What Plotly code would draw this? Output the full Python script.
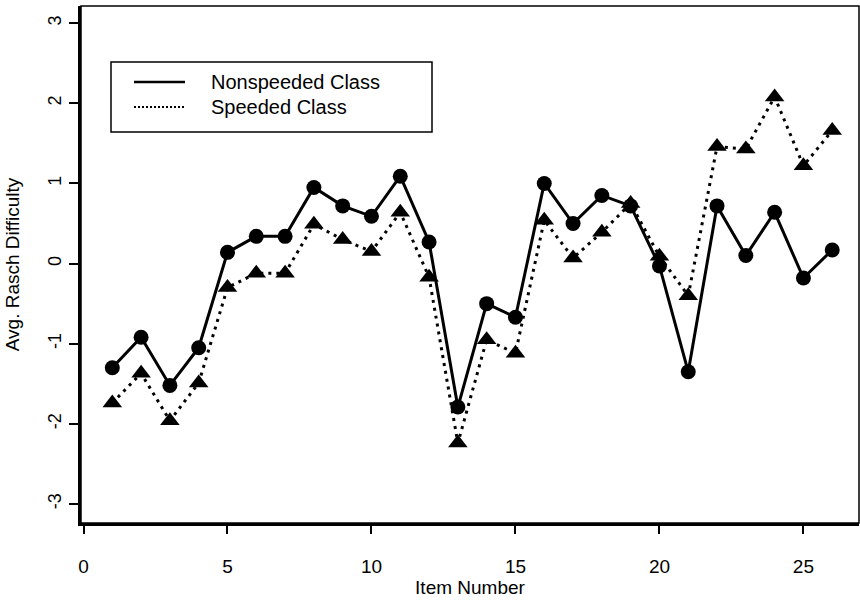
import plotly.graph_objects as go

items = list(range(1, 27))
nonspeeded = [-1.30, -0.92, -1.52, -1.05, 0.14, 0.34, 0.34, 0.95, 0.72, 0.59,
              1.09, 0.27, -1.79, -0.50, -0.67, 1.00, 0.50, 0.85, 0.72, -0.03,
              -1.35, 0.72, 0.10, 0.64, -0.18, 0.17]
speeded = [-1.74, -1.37, -1.96, -1.49, -0.30, -0.12, -0.12, 0.49, 0.30, 0.15,
           0.64, -0.17, -2.24, -0.95, -1.12, 0.54, 0.07, 0.39, 0.75, 0.09,
           -0.40, 1.46, 1.43, 2.08, 1.22, 1.66]
x_ticks = [0, 5, 10, 15, 20, 25]
y_ticks = [-3, -2, -1, 0, 1, 2, 3]
y_tick_text = ["-3", "-2", "-1", "0", "1", "2", "3"]
legend_labels = ["Nonspeeded Class", "Speeded Class"]

FONT = "Arial, Liberation Sans, sans-serif"
W, H = 860, 600
L, R, T, B = 81, 1, 6, 77
PW, PH = W - L - R, H - T - B


def px(x):
    return (x - L) / PW


def py(y):
    return (H - B - y) / PH


fig = go.Figure()
fig.add_trace(go.Scatter(
    x=items, y=speeded, mode="lines+markers", name=legend_labels[1],
    line=dict(color="black", width=3, dash="3px,5px"),
    marker=dict(symbol="triangle-up", size=17, color="black"),
    showlegend=False))
fig.add_trace(go.Scatter(
    x=items, y=nonspeeded, mode="lines+markers", name=legend_labels[0],
    line=dict(color="black", width=3),
    marker=dict(symbol="circle", size=15, color="black"),
    showlegend=False))

# frame (thin top/right)
fig.add_shape(type="rect", xref="paper", yref="paper", x0=0, x1=1, y0=0, y1=1,
              line=dict(color="black", width=1.5), layer="above")

# legend box
fig.add_shape(type="rect", xref="paper", yref="paper",
              x0=px(111), x1=px(432), y0=py(132), y1=py(62),
              line=dict(color="black", width=1.5), fillcolor="white", layer="below")
fig.add_shape(type="line", xref="paper", yref="paper",
              x0=px(134), x1=px(185), y0=py(82), y1=py(82),
              line=dict(color="black", width=2.5))
fig.add_shape(type="line", xref="paper", yref="paper",
              x0=px(134), x1=px(185), y0=py(107), y1=py(107),
              line=dict(color="black", width=2, dash="2px,2px"))
for lab, yy in zip(legend_labels, [82, 107]):
    fig.add_annotation(text=lab, xref="paper", yref="paper", x=px(209), y=py(yy),
                       xanchor="left", yanchor="middle", showarrow=False,
                       font=dict(family=FONT, size=20, color="black"))

fig.update_layout(
    width=W, height=H,
    margin=dict(l=L, r=R, t=T, b=B, pad=0),
    paper_bgcolor="white", plot_bgcolor="white",
    font=dict(family=FONT, color="black"),
    xaxis=dict(range=[-0.087, 26.93], tickvals=x_ticks, showgrid=False, zeroline=False,
               showline=True, linewidth=3, linecolor="black",
               ticks="outside", ticklen=8, tickwidth=1.5, tickcolor="black",
               tickfont=dict(size=19), ticklabelstandoff=16,
               title=dict(text="Item Number", font=dict(size=19), standoff=4)),
    yaxis=dict(range=[-3.237, 3.214], tickvals=y_ticks, ticktext=y_tick_text,
               showgrid=False, zeroline=False,
               showline=True, linewidth=3, linecolor="black",
               ticks="outside", ticklen=9, tickwidth=1.5, tickcolor="black",
               tickangle=-90, tickfont=dict(size=18), ticklabelstandoff=1,
               title=dict(text="Avg. Rasch Difficulty", font=dict(size=19), standoff=21)),
)

fig.write_html("out.html")
